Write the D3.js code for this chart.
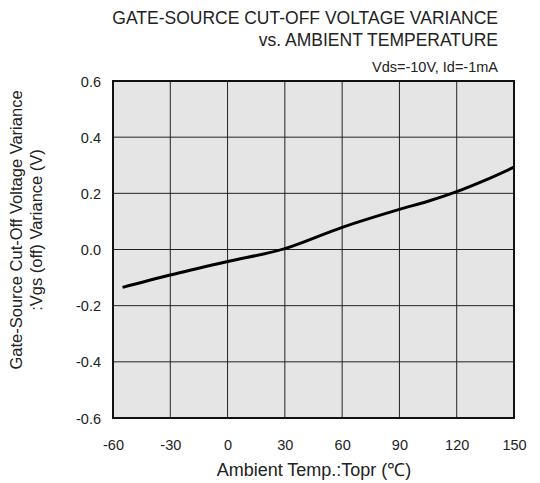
<!DOCTYPE html>
<html>
<head>
<meta charset="utf-8">
<script src="https://cdn.jsdelivr.net/npm/d3@7"></script>
<style>
  body { margin: 0; background: #fff; }
  svg text { font-family: "Liberation Sans", Arial, sans-serif; fill: #222; }
</style>
</head>
<body>
<svg width="540" height="483"></svg>
<script>
// curve: ambient temperature (degC) vs Vgs(off) variance (V)
const temps = [-55, -30, 0, 30, 60, 90, 105, 120, 135, 150]
const variance = [-0.135, -0.091, -0.043, 0.003, 0.079, 0.143, 0.172, 0.206, 0.247, 0.293]
const xTicks = [-60, -30, 0, 30, 60, 90, 120, 150]
const yTicks = [-0.6, -0.4, -0.2, 0.0, 0.2, 0.4, 0.6]

const svg = d3.select("svg"),
    margin = {top: 81, right: 26, bottom: 65, left: 113},
    width = 540 - margin.left - margin.right,
    height = 483 - margin.top - margin.bottom

const g = svg.append("g").attr("transform", `translate(${margin.left},${margin.top})`)

const x = d3.scaleLinear().domain([-60, 150]).range([0, width])
const y = d3.scaleLinear().domain([-0.6, 0.6]).range([height, 0])

g.append("rect")
  .attr("width", width).attr("height", height)
  .attr("fill", "#e5e5e5")

// grid
g.append("g")
  .selectAll("line").data(xTicks.slice(1, -1)).join("line")
    .attr("x1", d => x(d)).attr("x2", d => x(d))
    .attr("y1", 0).attr("y2", height)
    .attr("stroke", "#222").attr("stroke-width", 1)
g.append("g")
  .selectAll("line").data(yTicks.slice(1, -1)).join("line")
    .attr("y1", d => y(d)).attr("y2", d => y(d))
    .attr("x1", 0).attr("x2", width)
    .attr("stroke", "#222").attr("stroke-width", 1)

// tick labels via axes, plain hyphen for minus like the original
const hy = f => d => f(d).replace("\u2212", "-")
const xAxis = g.append("g")
  .attr("transform", `translate(0,${height})`)
  .call(d3.axisBottom(x).tickValues(xTicks).tickSize(0).tickPadding(22).tickFormat(hy(d3.format("d"))))
const yAxis = g.append("g")
  .call(d3.axisLeft(y).tickValues(yTicks).tickSize(0).tickPadding(12).tickFormat(hy(d3.format(".1f"))))
;[xAxis, yAxis].forEach(a => {
  a.select(".domain").remove()
  a.selectAll("text").attr("font-size", 14.5).attr("font-family", null).style("fill", "#222")
})
yAxis.selectAll("text").attr("dy", "0.35em")

// curve
g.append("path")
  .datum(d3.zip(temps, variance))
  .attr("d", d3.line().x(d => x(d[0])).y(d => y(d[1])).curve(d3.curveMonotoneX))
  .attr("fill", "none")
  .attr("stroke", "#000")
  .attr("stroke-width", 3)

// frame
g.append("rect")
  .attr("width", width).attr("height", height)
  .attr("fill", "none").attr("stroke", "#111").attr("stroke-width", 2)

// titles
svg.append("text").attr("x", 498).attr("y", 24).attr("text-anchor", "end")
  .attr("font-size", 17.5).text("GATE-SOURCE CUT-OFF VOLTAGE VARIANCE")
svg.append("text").attr("x", 498).attr("y", 46).attr("text-anchor", "end")
  .attr("font-size", 17.5).text("vs. AMBIENT TEMPERATURE")
svg.append("text").attr("x", 498).attr("y", 72).attr("text-anchor", "end")
  .attr("font-size", 14.5).text("Vds=-10V, Id=-1mA")

svg.append("text").attr("x", 314).attr("y", 476).attr("text-anchor", "middle")
  .attr("font-size", 18).text("Ambient Temp.:Topr (℃)")

svg.append("text").attr("transform", "translate(22,230) rotate(-90)").attr("text-anchor", "middle")
  .attr("font-size", 16.5).text("Gate-Source Cut-Off Voltage Variance")
svg.append("text").attr("transform", "translate(42,230) rotate(-90)").attr("text-anchor", "middle")
  .attr("font-size", 16.5).text(":Vgs (off) Variance (V)")
</script>
</body>
</html>
